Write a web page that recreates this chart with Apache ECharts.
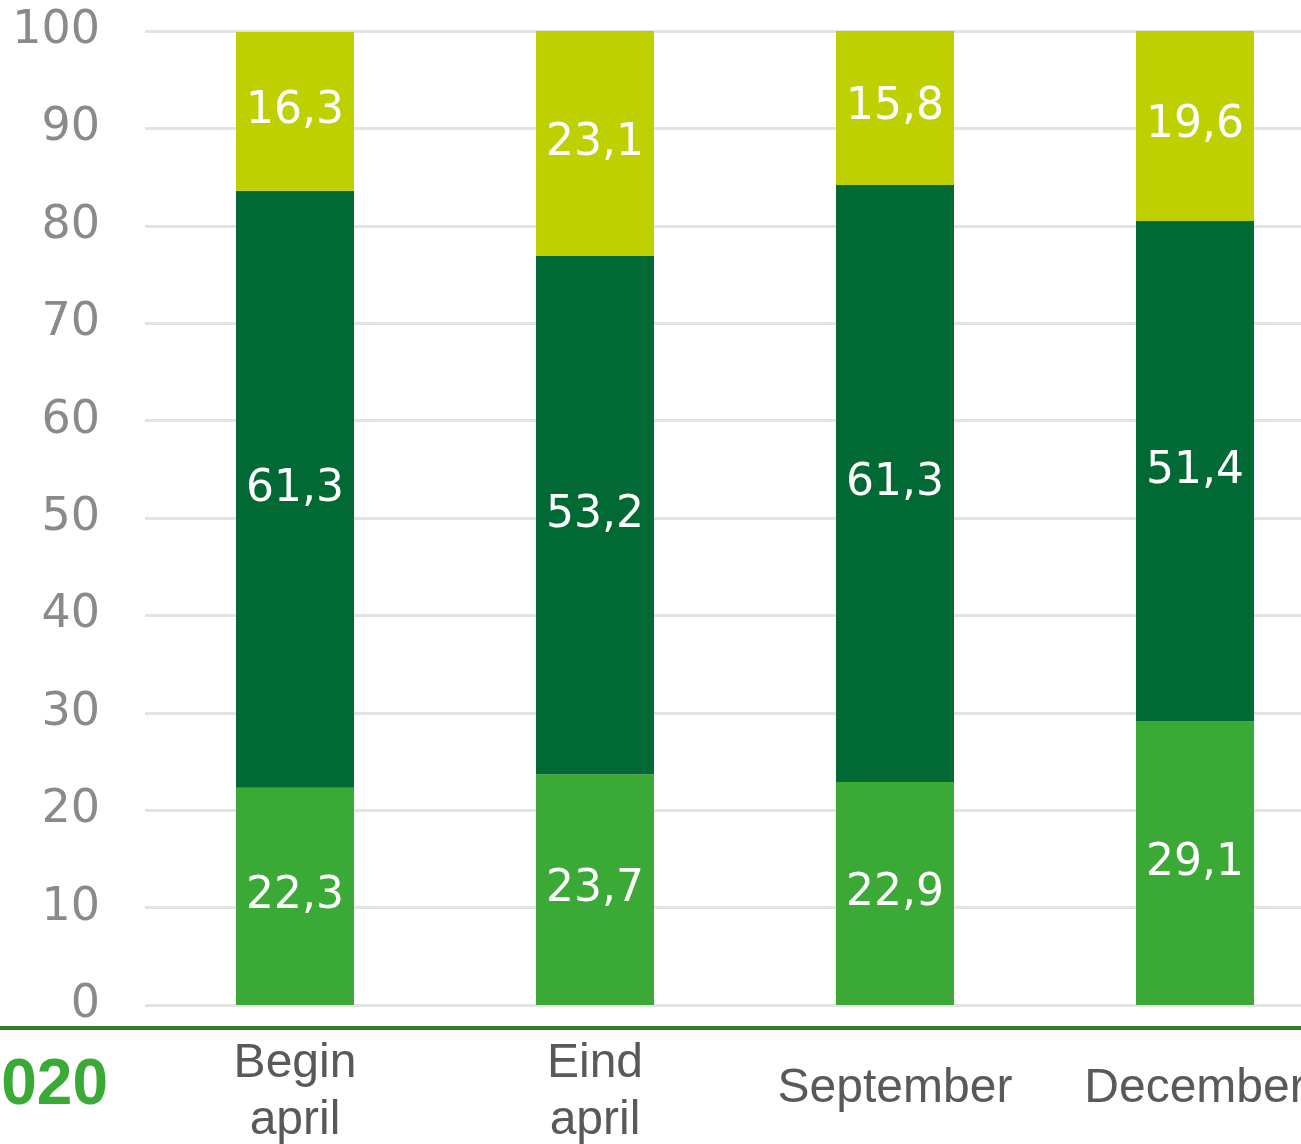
<!DOCTYPE html>
<html>
<head>
<meta charset="utf-8">
<script src="https://cdn.jsdelivr.net/npm/echarts@6/dist/echarts.min.js"></script>
<style>
  html, body { margin: 0; padding: 0; background: #fff; }
  #main { width: 1301px; height: 1144px; }
</style>
</head>
<body>
<div id="main"></div>
<script>
var categories = ['Begin\napril', 'Eind\napril', 'September', 'December'];
var lowerValues = [22.3, 23.7, 22.9, 29.1];
var middleValues = [61.3, 53.2, 61.3, 51.4];
var upperValues = [16.3, 23.1, 15.8, 19.6];
var yTicks = [0, 10, 20, 30, 40, 50, 60, 70, 80, 90, 100];
var yearLabel = '2020';

var colors = ['#3aa935', '#006934', '#bfd000'];

function segLabel () {
  return {
    show: true,
    position: 'inside',
    color: '#ffffff',
    fontSize: 44,
    fontFamily: 'DejaVu Sans, sans-serif',
    formatter: function (p) {
      return p.value.toFixed(1).replace('.', ',')
    }
  }
}

function makeSeries (name, data, color) {
  return {
    name: name,
    type: 'bar',
    stack: 'total',
    barWidth: 118,
    data: data,
    itemStyle: { color: color },
    label: segLabel(),
    emphasis: { disabled: true }
  }
}

var option = {
  animation: false,
  // the plot runs past the right edge of the picture
  grid: { left: 145, top: 31, width: 1200, height: 974, outerBoundsMode: 'none' },
  xAxis: {
    type: 'category',
    data: categories,
    axisLine: { show: false },
    axisTick: { show: false },
    axisLabel: {
      color: '#595959',
      fontSize: 48,
      fontFamily: 'Liberation Sans, Arial, sans-serif',
      lineHeight: 57,
      verticalAlign: 'middle',
      margin: 84,
      interval: 0,
      formatter: function (v) {
        return v.indexOf('\n') >= 0 ? '{two|' + v.replace('\n', '}\n{two|') + '}' : v
      },
      rich: {
        two: { fontSize: 48, lineHeight: 57, color: '#595959', fontFamily: 'Liberation Sans, Arial, sans-serif', padding: [6, 0, 0, 0] }
      }
    }
  },
  yAxis: {
    type: 'value',
    min: yTicks[0],
    max: yTicks[yTicks.length - 1],
    interval: 10,
    axisLine: { show: false },
    axisTick: { show: false },
    axisLabel: {
      color: '#8a8a8a',
      fontSize: 46,
      fontFamily: 'DejaVu Sans, sans-serif',
      margin: 45
    },
    splitLine: { lineStyle: { color: '#e3e3e3', width: 3 } }
  },
  series: [
    makeSeries('Onder', lowerValues, colors[0]),
    makeSeries('Midden', middleValues, colors[1]),
    makeSeries('Boven', upperValues, colors[2])
  ],
  graphic: [
    {
      type: 'line',
      shape: { x1: 0, y1: 1028, x2: 1301, y2: 1028 },
      style: { stroke: '#2e7d27', lineWidth: 4 }
    },
    {
      type: 'text',
      x: 108,
      y: 1086,
      style: {
        text: yearLabel,
        fill: '#3aa935',
        font: 'bold 64px Liberation Sans, Arial, sans-serif',
        textAlign: 'right',
        textVerticalAlign: 'middle'
      }
    }
  ]
}

var myChart = echarts.init(document.getElementById('main'))
myChart.setOption(option)
</script>
</body>
</html>
